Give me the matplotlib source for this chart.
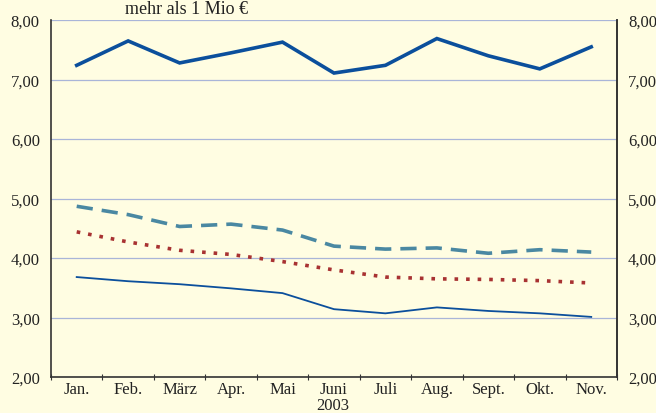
import numpy as np
import matplotlib
matplotlib.use('Agg')
import matplotlib.pyplot as plt

plt.rcParams['font.family'] = ['Liberation Serif', 'DejaVu Serif']

# Monate 2003
monate = ['Jan.', 'Feb.', 'März', 'Apr.', 'Mai', 'Juni', 'Juli', 'Aug.', 'Sept.', 'Okt.', 'Nov.']

# Zinssätze je Kategorie
mehr_1mio = [7.24, 7.65, 7.28, 7.45, 7.63, 7.11, 7.24, 7.69, 7.40, 7.18, 7.55]
gestrichelt = [4.87, 4.73, 4.53, 4.57, 4.47, 4.20, 4.15, 4.17, 4.08, 4.14, 4.10]
gepunktet = [4.44, 4.27, 4.13, 4.06, 3.94, 3.80, 3.68, 3.65, 3.64, 3.62, 3.58]
duenn = [3.68, 3.61, 3.56, 3.49, 3.41, 3.14, 3.07, 3.17, 3.11, 3.07, 3.01]

yticks = [2, 3, 4, 5, 6, 7, 8]
ytick_labels = ['2,00', '3,00', '4,00', '5,00', '6,00', '7,00', '8,00']

bg = '#fffde2'
fig = plt.figure(figsize=(6.56, 4.14), dpi=100, facecolor=bg)
ax = fig.add_axes([0.0777, 0.087, 0.8628, 0.862], facecolor=bg)

x = np.arange(len(monate))
ax.plot(x, mehr_1mio, color='#0b4f9c', lw=2.6, solid_joinstyle='miter')
ax.plot(x, gestrichelt, color='#4a88a2', lw=2.6, dashes=(4.5, 2.5))
ax.plot(x, gepunktet, color='#a83232', lw=2.6, dashes=(1, 2.2))
ax.plot(x, duenn, color='#0b4f9c', lw=1.3)

ax.set_xlim(-0.5, len(monate) - 0.5)
ax.set_ylim(2, 8)
ax.set_yticks(yticks)
ax.set_yticklabels(ytick_labels, fontsize=12, color='#222222')
ax.tick_params(axis='y', length=0, pad=8)
ax.grid(axis='y', color='#a9b5d8', lw=0.9)
ax.set_axisbelow(True)

# Monatsnamen mittig, Striche zwischen den Monaten
ax.set_xticks(np.arange(len(monate) + 1) - 0.5)
ax.set_xticklabels([])
ax.set_xticks(x, minor=True)
ax.set_xticklabels(monate, minor=True, fontsize=12, color='#222222')
ax.tick_params(axis='x', which='major', direction='inout', length=5, color='#333333')
ax.tick_params(axis='x', which='minor', length=0, pad=3)

for s in ['left', 'right', 'bottom']:
    ax.spines[s].set_color('#333333')
    ax.spines[s].set_linewidth(1.2)
ax.spines['top'].set_visible(False)

ax2 = ax.twinx()
ax2.set_ylim(2, 8)
ax2.set_yticks(yticks)
ax2.set_yticklabels(ytick_labels, fontsize=12, color='#222222')
ax2.tick_params(axis='y', length=0, pad=8)
for s in ['left', 'top', 'bottom']:
    ax2.spines[s].set_visible(False)
ax2.spines['right'].set_color('#333333')
ax2.spines['right'].set_linewidth(1.2)

fig.text(0.285, 0.977, 'mehr als 1 Mio €', ha='center', va='center', fontsize=13, color='#222222')
fig.text(0.507, 0.02, '2003', ha='center', va='center', fontsize=12, color='#222222')

fig.savefig('out.png', dpi=100, facecolor=bg)
